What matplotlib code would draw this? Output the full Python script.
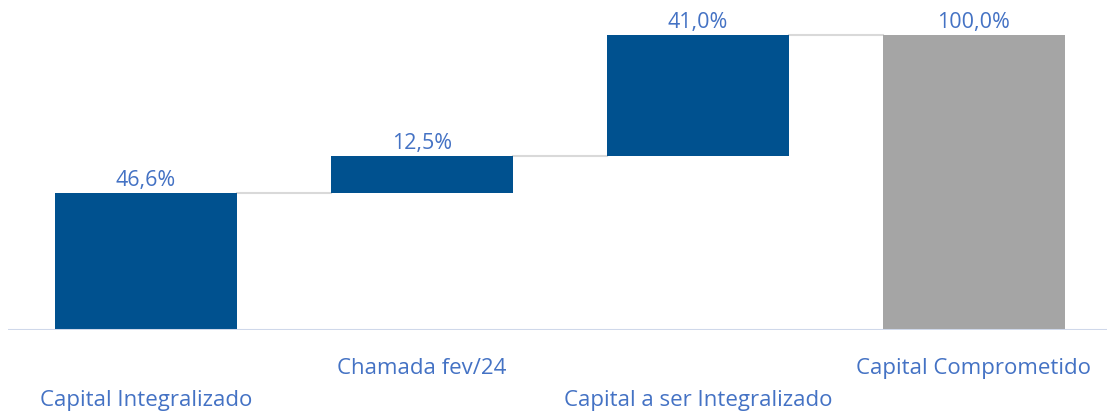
import matplotlib.pyplot as plt
import numpy as np

categories = ['Capital Integralizado', 'Chamada fev/24', 'Capital a ser Integralizado', 'Capital Comprometido']
values = [46.6, 12.5, 41.0, 100.0]
labels = ['46,6%', '12,5%', '41,0%', '100,0%']
is_total = [False, False, False, True]

blue = '#00518F'
grey = '#A5A5A5'
text_blue = '#4472C4'

plt.rcParams['font.family'] = ['Open Sans', 'DejaVu Sans']

fig = plt.figure(figsize=(11.07, 4.14), dpi=100)
ax = fig.add_axes([8 / 1107, 83 / 414, 1 - 8 / 1107, 331 / 414])

x = np.arange(len(categories))
bottoms = []
tops = []
running = 0.0
for v, tot in zip(values, is_total):
    if tot:
        bottoms.append(0.0)
        tops.append(v)
    else:
        bottoms.append(running)
        running += v
        tops.append(running)

heights = [t - b for t, b in zip(tops, bottoms)]
colors = [grey if t else blue for t in is_total]
width = 0.66
ax.bar(x, heights, bottom=bottoms, width=width, color=colors, zorder=3)

# connectors
for i in range(len(x) - 1):
    ax.plot([x[i] + width / 2, x[i + 1] - width / 2], [tops[i], tops[i]],
            color='#D9D9D9', lw=1.5, zorder=2)

for xi, t, lab in zip(x, tops, labels):
    ax.text(xi, t + 1.0, lab, ha='center', va='bottom', color=text_blue, fontsize=15.5)

ax.set_xlim(-0.5, 3.482)
ax.set_ylim(0, 331 / 2.95)
ax.axhline(0, color='#CFD8EA', lw=2.2, zorder=4)
for s in ax.spines.values():
    s.set_visible(False)
ax.set_yticks([])
ax.set_xticks([])

for i, (xi, cat) in enumerate(zip(x, categories)):
    ypix = 401 if i % 2 == 0 else 369
    fig.text(ax.transData.transform((xi, 0))[0] / fig.bbox.width, 1 - ypix / 414, cat,
             ha='center', va='center', color=text_blue, fontsize=16)

fig.savefig('out.png', dpi=100)
